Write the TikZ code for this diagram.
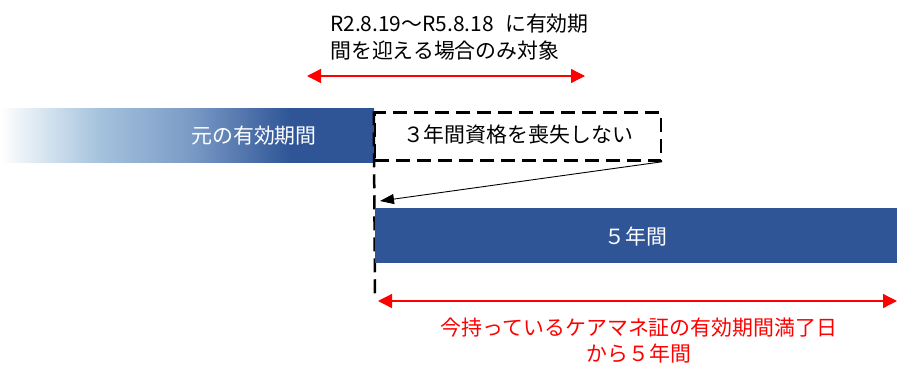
\documentclass[tikz,border=0pt]{standalone}
\usepackage{fontspec}
\setmainfont{Noto Sans CJK JP}
\usetikzlibrary{arrows.meta}
\definecolor{db}{HTML}{2F5597}
\definecolor{lb}{HTML}{A4C2DD}
\definecolor{mb}{HTML}{7B9BC6}
\definecolor{rd}{HTML}{FF0000}
\pgfdeclarehorizontalshading{oldbar}{100bp}{color(0bp)=(white); color(25bp)=(white); color(38.4bp)=(lb); color(50.4bp)=(mb); color(63.8bp)=(db); color(75bp)=(db); color(100bp)=(db)}
\tikzset{
  jp/.style={font=\fontsize{20.9}{27}\selectfont, inner sep=0pt},
  jpb/.style={font=\fontsize{20.9}{25.5}\selectfont, inner sep=0pt},
  barbox/.style={inner sep=0pt, outer sep=0pt},
  dashbox/.style={draw=black, line width=2.5pt, dash pattern=on 14pt off 7pt, inner sep=0pt},
  redarrow/.style={draw=rd, line width=1.3pt, {Triangle[length=14pt,width=14pt]}-{Triangle[length=14pt,width=14pt]}},
  blackarrow/.style={draw=black, line width=0.9pt, -{Triangle[length=14pt,width=10pt]}}
}
\begin{document}
\begin{tikzpicture}[x=1pt,y=-1pt]
\useasboundingbox (0,0) rectangle (897,365);
% top text and arrow
\node[jp, anchor=west, align=left] (toptext) at (330,37) {R2.8.19～R5.8.18\hspace{0.55em}に有効期\\間を迎える場合のみ対象};
\coordinate (ta1) at (307,76);
\coordinate (ta2) at (585,76);
\draw[redarrow] (ta1) -- (ta2);
% old period bar
\node[barbox, shading=oldbar, minimum width=374pt, minimum height=54pt] (old) at (187,135.5) {};
\node[jp, text=white] (oldtext) at (254,136) {元の有効期間};
% dashed box
\node[dashbox, minimum width=286pt, minimum height=48pt] (keep) at (518,136.5) {};
\node[jp] (keeptext) at (518,135) {３年間資格を喪失しない};
\coordinate (vend) at (375,296);
\draw[line width=2.5pt, dash pattern=on 14pt off 7pt] (keep.north west) -- (vend);
% new bar
\node[barbox, fill=db, minimum width=522pt, minimum height=55pt] (new) at (636,235.5) {};
\node[jp, text=white] (newtext) at (636,237) {５年間};
% arrow from box to new bar
\coordinate (tgt) at (380,201);
\draw[blackarrow] (keep.south east) -- (tgt);
% bottom red arrow and text
\coordinate (ba1) at (378,301);
\coordinate (ba2) at (897,301);
\draw[redarrow] (ba1) -- (ba2);
\node[jpb, text=rd, align=center] (bottomtext) at (639,340.5) {今持っているケアマネ証の有効期間満了日\\から５年間};
\end{tikzpicture}
\end{document}
